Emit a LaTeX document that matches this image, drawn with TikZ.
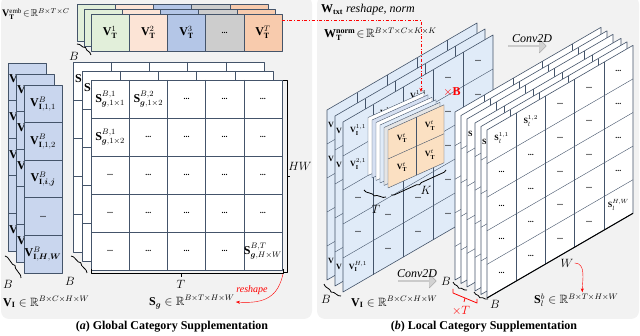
\documentclass[tikz,border=0pt]{standalone}
\usepackage{amsmath}
\usepackage{amssymb}
\usepackage{fontspec}
\setmainfont{Liberation Serif}
\usetikzlibrary{arrows.meta, positioning, shapes.arrows, decorations.pathreplacing}

\definecolor{panelbg}{RGB}{242,242,242}
\definecolor{gridcol}{RGB}{68,84,106}
\definecolor{vifill}{RGB}{201,214,238}
\definecolor{vilight}{RGB}{224,235,248}
\definecolor{kerfill}{RGB}{251,224,194}
\definecolor{vtgreen}{RGB}{226,239,218}
\definecolor{vtpeach}{RGB}{252,228,214}
\definecolor{vtblue}{RGB}{180,198,231}
\definecolor{vtgrey}{RGB}{205,205,205}
\definecolor{vtorange}{RGB}{248,203,173}

\begin{document}
\begin{tikzpicture}[x=1pt, y=-1pt, line join=round,
    every node/.style={inner sep=1pt, font=\large},
    gridline/.style={draw=gridcol, line width=0.6pt},
    dots/.style={font=\footnotesize\bfseries},
    captxt/.style={font=\large\bfseries},
    brk/.style={draw=black, line width=0.8pt},
    bbrace/.style={brk, decorate, decoration={brace, amplitude=2.5pt}},
    convarrow/.style={single arrow, draw=gray!65, fill=gray!35, minimum height=38pt, minimum width=14pt, single arrow head extend=2.5pt, inner sep=0pt}]
    \useasboundingbox (0,0) rectangle (640,336);

    % Panels
    \fill[panelbg, rounded corners=8pt] (1,-4) rectangle (312,319);
    \fill[panelbg, rounded corners=8pt] (317,-4) rectangle (639,319);
    \node[captxt] (capa) at (172,327) {(\textit{a}) Global Category Supplementation};
    \node[captxt] (capb) at (484,327) {(\textit{b}) Local Category Supplementation};

    % V_T^emb stack
    \foreach \dx/\dy in {-14/-10, -7/-5, 0/0}
      \foreach \c/\col in {0/vtgreen, 1/vtpeach, 2/vtblue, 3/vtgrey, 4/vtorange}
        \filldraw[gridline, fill=\col] (91+\dx+38.2*\c, 14+\dy) rectangle ++(38.2, 37);
    \node (vt1) at (110.1,32.5) {$\mathbf{V}_{\mathbf{T}}^{1}$};
    \node (vt2) at (148.3,32.5) {$\mathbf{V}_{\mathbf{T}}^{2}$};
    \node (vt3) at (186.5,32.5) {$\mathbf{V}_{\mathbf{T}}^{3}$};
    \node[dots] (vtdots) at (224.7,32.5) {...};
    \node (vtT) at (262.9,32.5) {$\mathbf{V}_{\mathbf{T}}^{T}$};
    \node[anchor=west, font=\normalsize] (vtemb) at (1,14) {$\mathbf{V}_{\mathbf{T}}^{\mathrm{emb}}\!\in\!\mathbb{R}^{B\times T\times C}$};
    \draw[bbrace] (77,44) -- (91,55);
    \node (bvt) at (74,56) {$B$};

    % S_g stack
    \foreach \k/\dx/\dy in {0/-18/-18, 1/-9/-9, 2/0/0} {
      \begin{scope}[shift={(91+\dx,80+\dy)}]
        \filldraw[gridline, fill=white] (0,0) rectangle (191,190);
        \foreach \i in {1,...,4} {
          \draw[gridline] (38.2*\i,0) -- (38.2*\i,190);
          \draw[gridline] (0,38*\i) -- (191,38*\i);
        }
        \ifnum\k<2 \node[anchor=west] (sg\k-00) at (1,17) {$\mathbf{S}$};\fi
      \end{scope}
    }
    \foreach \r in {0,...,4} \foreach \c in {0,...,4} {
      \pgfmathtruncatemacro{\spec}{(\r==0 && \c<2) || (\r==1 && \c==0) || (\r==4 && \c==4)}
      \ifnum\spec=0 \node[dots] (sg-\r\c) at (110.1+38.2*\c, 99+38*\r) {...};\fi
    }
    \node (sg-00) at (110.1,99) {$\mathbf{S}^{B,1}_{\boldsymbol{g},1\times1}$};
    \node (sg-01) at (148.3,99) {$\mathbf{S}^{B,2}_{\boldsymbol{g},1\times2}$};
    \node (sg-10) at (110.1,137) {$\mathbf{S}^{B,1}_{\boldsymbol{g},1\times2}$};
    \node (sg-44) at (262.9,251) {$\mathbf{S}^{B,T}_{\boldsymbol{g},H\times W}$};
    \draw[brk] (283,80) -- (287,80) -- (287,272) -- (283,272);
    \draw[brk] (287,176) -- (290,176);
    \node (hw) at (300,166) {$HW$};
    \draw[brk] (91,269) -- (91,273) -- (283,273) -- (283,269);
    \draw[brk] (181,273) -- (181,277);
    \node (tsg) at (181,284) {$T$};
    \coordinate (tend) at (283,274);
    \draw[bbrace] (71,256) -- (87,273);
    \node (bsg) at (70,281) {$B$};
    \node[anchor=west] (sglab) at (148,302) {$\mathbf{S}_{\boldsymbol{g}}\in\mathbb{R}^{B\times T\times H\times W}$};
    \node[red, font=\normalsize\itshape] (reshape) at (252,290) {reshape};
    \draw[red, -{Stealth[length=4pt]}] (tend) .. controls (278,296) and (266,304) .. (sglab.east);

    % V_I column stack
    \foreach \k/\dx/\dy in {0/-16/-22, 1/-8/-11} {
      \begin{scope}[shift={(24+\dx,85+\dy)}]
        \filldraw[gridline, fill=vifill] (0,0) rectangle (38,188);
        \foreach \i in {1,...,4} \draw[gridline] (0,37.6*\i) -- (38,37.6*\i);
        \foreach \i in {0,1,2,4}
          \node[anchor=west] (vi\k-\i) at (0,16+37.6*\i) {$\mathbf{V}$};
      \end{scope}
    }
    \begin{scope}[shift={(24,85)}]
      \filldraw[gridline, fill=vifill] (0,0) rectangle (38,188);
      \foreach \i in {1,...,4} \draw[gridline] (0,37.6*\i) -- (38,37.6*\i);
      \node (vi-1) at (19,18.8) {$\mathbf{V}^{B}_{\mathbf{I},1,1}$};
      \node (vi-2) at (19,56.4) {$\mathbf{V}^{B}_{\mathbf{I},1,2}$};
      \node (vi-3) at (19,94) {$\mathbf{V}^{B}_{\mathbf{I},\boldsymbol{i},\boldsymbol{j}}$};
      \node[dots] (vi-4) at (19,131.6) {...};
      \node (vi-5) at (19,169.2) {$\mathbf{V}^{B}_{\mathbf{I},\boldsymbol{H},\boldsymbol{W}}$};
    \end{scope}
    \draw[bbrace] (5,256) -- (21,278);
    \node (bvi) at (8,284) {$B$};
    \node[anchor=west] (vilab) at (2,302) {$\mathbf{V}_{\mathbf{I}}\in\mathbb{R}^{B\times C\times H\times W}$};

    % Right: V_I slanted panels
    \foreach \k/\L/\T in {0/327/110, 1/335/116, 2/343/122} {
      \begin{scope}[shift={(\L,\T)}, yslant=0.58]
        \filldraw[gridline, fill=vilight] (0,0) -- (150,0) -- (150,170) -- (0,170) -- cycle;
        \foreach \i in {1,...,4} {
          \draw[gridline, line width=0.4pt] (30*\i,0) -- (30*\i,170);
          \draw[gridline, line width=0.4pt] (0,34*\i) -- (150,34*\i);
        }
        \ifnum\k<2
          \foreach \i in {0,1,4}
            \node[anchor=west, font=\footnotesize] (vr\k-\i) at (0,15+34*\i) {$\mathbf{V}$};
        \fi
      \end{scope}
    }
    \begin{scope}[shift={(343,122)}, yslant=0.58]
      \foreach \r in {0,...,4} \foreach \c in {0,...,4} {
        \pgfmathtruncatemacro{\spec}{(\r==0 && \c<3) || (\c==0 && (\r==1 || \r==4))}
        \ifnum\spec=0 \node[dots] (vr-\r\c) at (15+30*\c, 17+34*\r) {...};\fi
      }
      \node[font=\footnotesize] (vr-00) at (15,17) {$\mathbf{V}_{\mathbf{I}}^{1,1}$};
      \node[font=\footnotesize] (vr-01) at (45,17) {$\mathbf{V}_{\mathbf{I}}^{1,2}$};
      \node[font=\footnotesize] (vr-02) at (75,17) {$\mathbf{V}_{\mathbf{I}}^{1,3}$};
      \node[font=\footnotesize] (vr-10) at (15,51) {$\mathbf{V}_{\mathbf{I}}^{2,1}$};
      \node[font=\footnotesize] (vr-40) at (15,153) {$\mathbf{V}_{\mathbf{I}}^{H,1}$};
    \end{scope}
    \draw[bbrace] (341,296) -- (324,284);
    \node (bvr) at (326,299) {$B$};
    \node[anchor=west] (virlab) at (350,302) {$\mathbf{V}_{\mathbf{I}}\in\mathbb{R}^{B\times C\times H\times W}$};

    % Kernel stack
    \foreach \j/\col in {5/white, 4/vtblue!55, 3/white, 2/vilight, 1/gray!20} {
      \begin{scope}[shift={(388-4*\j,130-2.5*\j)}, yslant=0.45]
        \filldraw[gridline, line width=0.4pt, fill=\col] (0,0) -- (56,0) -- (56,58) -- (0,58) -- cycle;
      \end{scope}
    }
    \begin{scope}[shift={(388,130)}, yslant=0.45]
      \filldraw[gridline, line width=0.4pt, fill=kerfill] (0,0) -- (56,0) -- (56,58) -- (0,58) -- cycle;
      \draw[gridline, line width=0.4pt] (28,0) -- (28,58);
      \draw[gridline, line width=0.4pt] (0,29) -- (56,29);
      \foreach \r in {0,1} \foreach \c in {0,1}
        \node[font=\footnotesize] (ker-\r\c) at (14+28*\c, 14.5+29*\r) {$\mathbf{V}_{\mathbf{T}}^{t}$};
    \end{scope}
    \draw[bbrace] (386,197) -- (364,190);
    \node (tker) at (376,209) {$T$};
    \draw[bbrace] (446,170) -- (391,195);
    \node (kker) at (426,190) {$K$};
    \node[red, font=\large\bfseries] (timesb) at (452,92) {$\times\mathbf{B}$};

    % Right: S_l slanted panels
    \foreach \k/\L/\T in {0/455/112, 1/461/115.5, 2/467/119, 3/475/123, 4/481/126.5, 5/487/130} {
      \begin{scope}[shift={(\L,\T)}, yslant=0.58]
        \filldraw[gridline, fill=white] (0,0) -- (146,0) -- (146,168) -- (0,168) -- cycle;
        \foreach \i in {1,...,4} {
          \draw[gridline, line width=0.4pt] (29.2*\i,0) -- (29.2*\i,168);
          \draw[gridline, line width=0.4pt] (0,33.6*\i) -- (146,33.6*\i);
        }
        \ifodd\k\else\ifnum\k>0\ifnum\k<5 \node[anchor=west, font=\footnotesize] (sl\k-00) at (0,15) {$\mathbf{S}$};\fi\fi\fi
      \end{scope}
    }
    \begin{scope}[shift={(487,130)}, yslant=0.58]
      \foreach \r in {0,...,4} \foreach \c in {0,...,4} {
        \pgfmathtruncatemacro{\spec}{(\r==0 && \c<2) || (\r==4 && \c==4)}
        \ifnum\spec=0 \node[dots] (sl-\r\c) at (14.6+29.2*\c, 16.8+33.6*\r) {...};\fi
      }
      \node[font=\footnotesize] (sl-00) at (14.6,16.8) {$\mathbf{S}_{l}^{1,1}$};
      \node[font=\footnotesize] (sl-01) at (43.8,16.8) {$\mathbf{S}_{l}^{1,2}$};
      \node[font=\footnotesize] (sl-44) at (131.4,151.2) {$\mathbf{S}_{l}^{H,W}$};
    \end{scope}
    \coordinate (wl) at (487,298);
    \coordinate (wr) at (633,213.3);
    \draw[line width=1pt] (wl) -- (wr);
    \node (wlab) at (567,263) {$W$};
    \draw[bbrace] (467,290) -- (453,282);
    \node (bsl1) at (446,281) {$B$};
    \draw[bbrace] (488,299) -- (474,292);
    \node (bsl2) at (495,304) {$B$};
    \draw[red, line width=0.8pt] (453,289) -- (453,293) -- (477,303) -- (477,299);
    \draw[red, line width=0.8pt] (465,298) -- (464,302);
    \node[red] (timest) at (461,311) {$\times T$};
    \node[anchor=west] (sllab) at (533,300) {$\mathbf{S}_{l}^{b}\in\mathbb{R}^{B\times T\times H\times W}$};
    \draw[red, -{Stealth[length=4pt]}] (wlab.east) to[out=0, in=90] ([xshift=6pt]sllab.north);

    % Conv2D arrows
    \node[convarrow] (conv1) at (527,46) {};
    \node[font=\large\itshape, above=1pt of conv1, xshift=5pt] (conv1lab) {Conv2D};
    \node[convarrow] (conv2) at (417,281) {};
    \node[font=\large\itshape, above=1pt of conv2] (conv2lab) {Conv2D};

    % W_txt labels and red link
    \node[anchor=west] (wtxt) at (320,10) {$\mathbf{W}_{\mathbf{txt}}$ \textit{reshape, norm}};
    \node[anchor=west] (wnorm) at (323,34) {$\mathbf{W}_{\mathbf{T}}^{\mathbf{norm}}\!\in\!\mathbb{R}^{B\times T\times C\times K\times K}$};
    \coordinate (redsrc) at (282,20);
    \coordinate (kertop) at (421,92);
    \draw[red, dash dot, line width=0.8pt, -{Stealth[length=4pt]}] (redsrc) -| (kertop);
\end{tikzpicture}
\end{document}
